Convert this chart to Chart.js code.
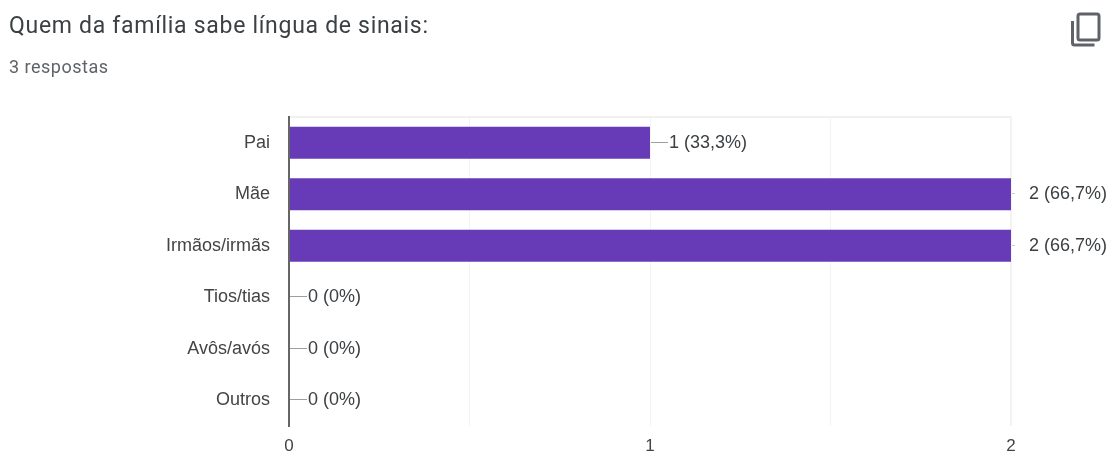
<!DOCTYPE html>
<html lang="pt">
<head>
<meta charset="utf-8">
<title>Quem da família sabe língua de sinais</title>
<script src="https://cdn.jsdelivr.net/npm/chart.js@4"></script>
<style>
    html, body { margin: 0; padding: 0; background: #fff; }
    #wrap { position: relative; width: 1112px; height: 453px; overflow: hidden; }
    #chart { position: absolute; left: 0; top: 0; }
    #title { position: absolute; left: 9px; top: 12px; font: 23px Roboto, sans-serif; color: #3c4043; letter-spacing: 0.7px; white-space: nowrap; }
    #subtitle { position: absolute; left: 9px; top: 56px; font: 18px Roboto, sans-serif; color: #5f6368; letter-spacing: 0.5px; white-space: nowrap; }
    #copy { position: absolute; left: 1070px; top: 12px; }
</style>
</head>
<body>
<div id="wrap">
    <canvas id="chart" width="1112" height="453"></canvas>
    <div id="title">Quem da família sabe língua de sinais:</div>
    <div id="subtitle">3 respostas</div>
    <svg id="copy" width="32" height="36" viewBox="0 0 32 36" fill="none" stroke="#5f6368" stroke-width="3">
        <rect x="8" y="2" width="21" height="26" rx="2"></rect>
        <path d="M2.5 9v22a2 2 0 0 0 2 2h20"></path>
    </svg>
</div>
<script>
const categories = ['Pai', 'Mãe', 'Irmãos/irmãs', 'Tios/tias', 'Avôs/avós', 'Outros'];
const counts = [1, 2, 2, 0, 0, 0];
const valueLabels = ['1 (33,3%)', '2 (66,7%)', '2 (66,7%)', '0 (0%)', '0 (0%)', '0 (0%)'];
const shownTicks = [0, 1, 2];

const labelFamily = '"Liberation Sans", Arial, sans-serif';

// leader line and count/percent text next to each bar
const barLabels = {
    id: 'barLabels',
    afterDatasetsDraw(chart) {
        const { ctx, scales } = chart;
        const right = scales.x.getPixelForValue(scales.x.max);
        ctx.save();
        ctx.font = '18px ' + labelFamily;
        ctx.textBaseline = 'middle';
        counts.forEach((count, i) => {
            const x = scales.x.getPixelForValue(count);
            const y = Math.round(scales.y.getPixelForValue(i));
            const atEnd = x >= right;
            ctx.strokeStyle = atEnd ? '#cccccc' : '#9e9e9e';
            ctx.lineWidth = 1;
            ctx.beginPath();
            ctx.moveTo(x + 1, y - 0.5);
            ctx.lineTo(x + (atEnd ? 4 : 18), y - 0.5);
            ctx.stroke();
            ctx.fillStyle = '#3c4043';
            ctx.fillText(valueLabels[i], x + (atEnd ? 18 : 19), y);
        });
        ctx.restore();
    }
};

new Chart(document.getElementById('chart'), {
    type: 'bar',
    data: {
        labels: categories,
        datasets: [{
            data: counts,
            backgroundColor: '#673ab7',
            borderWidth: 0,
            categoryPercentage: 1,
            barPercentage: 0.62
        }]
    },
    options: {
        indexAxis: 'y',
        responsive: false,
        animation: false,
        layout: { padding: { top: 117, right: 101, left: 0, bottom: 0 } },
        plugins: {
            legend: { display: false },
            tooltip: { enabled: false }
        },
        scales: {
            x: {
                min: 0,
                max: 2,
                afterFit: scale => { scale.height = 27; },
                border: { display: false },
                grid: {
                    color: '#f3f3f3',
                    lineWidth: ctx => ctx.index === 4 ? 2 : 1,
                    drawTicks: false
                },
                ticks: {
                    stepSize: 0.5,
                    autoSkip: false,
                    maxRotation: 0,
                    padding: 10,
                    color: '#444444',
                    font: { family: labelFamily, size: 17 },
                    callback: value => shownTicks.includes(value) ? String(value) : ''
                }
            },
            y: {
                // the long category labels would otherwise reserve space below the plot
                afterFit: scale => {
                    scale.width = 289;
                    scale.paddingTop = 0;
                    scale.paddingBottom = 0;
                },
                border: { display: true, color: '#666666', width: 2, z: 1 },
                // only the top and bottom edges of the plot get a line
                grid: {
                    drawTicks: false,
                    lineWidth: 2,
                    color: ctx => (ctx.index === 0 || ctx.index === categories.length) ? '#f0f0f0' : 'transparent'
                },
                ticks: {
                    padding: 19,
                    color: '#444444',
                    font: { family: labelFamily, size: 18 }
                }
            }
        }
    },
    plugins: [barLabels]
});
</script>
</body>
</html>
